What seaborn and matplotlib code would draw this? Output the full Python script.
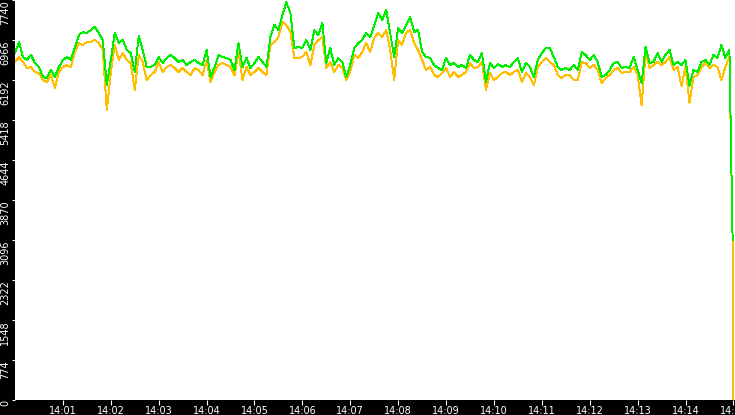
import matplotlib
matplotlib.use("Agg")
import matplotlib.pyplot as plt
import seaborn as sns
import pandas as pd

# samples every 5 s starting at 14:00:00 (seconds after 14:00)
step = 5
green = [
    6714, 6927, 6637, 6579, 6676, 6521, 6443, 6250, 6231, 6385,
    6250, 6443, 6579, 6637, 6579, 6831, 7063, 7121, 7101, 7160,
    7218, 7101, 6966, 6095, 6579, 7101, 6908, 6966, 6772, 6714,
    6347, 7043, 6772, 6443, 6443, 6482, 6637, 6521, 6618, 6676,
    6618, 6540, 6579, 6482, 6540, 6579, 6521, 6482, 6772, 6250,
    6443, 6676, 6637, 6618, 6579, 6385, 6908, 6443, 6618, 6424,
    6521, 6637, 6540, 6443, 7024, 7256, 7160, 7450, 7701, 7488,
    6811, 6831, 6811, 6966, 6772, 7160, 7063, 7295, 6521, 6811,
    6482, 6618, 6540, 6250, 6482, 6811, 6908, 6966, 7101, 7024,
    7256, 7488, 7353, 7546, 7101, 6637, 7198, 7101, 7256, 7411,
    7121, 7160, 6734, 6637, 6618, 6482, 6424, 6385, 6618, 6482,
    6521, 6443, 6482, 6424, 6676, 6579, 6540, 6714, 6153, 6521,
    6424, 6502, 6443, 6482, 6443, 6540, 6618, 6347, 6521, 6443,
    6250, 6579, 6714, 6811, 6811, 6637, 6443, 6385, 6424, 6385,
    6482, 6385, 6734, 6676, 6579, 6676, 6540, 6250, 6289, 6385,
    6521, 6540, 6424, 6443, 6424, 6637, 6385, 6134, 6831, 6521,
    6540, 6714, 6540, 6676, 6772, 6482, 6540, 6482, 6579, 6076,
    6385, 6347, 6540, 6579, 6482, 6676, 6618, 6869, 6618, 6772,
]
orange = [
    6540, 6637, 6540, 6424, 6443, 6347, 6327, 6192, 6153, 6289,
    6037, 6347, 6443, 6482, 6443, 6734, 6908, 6869, 6927, 6927,
    6966, 6908, 6772, 5612, 6327, 6869, 6579, 6714, 6579, 6521,
    5999, 6676, 6540, 6192, 6289, 6347, 6540, 6347, 6443, 6482,
    6424, 6347, 6424, 6347, 6289, 6424, 6385, 6289, 6579, 6153,
    6347, 6482, 6521, 6482, 6443, 6289, 6734, 6192, 6443, 6289,
    6347, 6424, 6347, 6289, 6869, 6927, 7024, 7314, 7256, 7121,
    6618, 6618, 6637, 6734, 6482, 6869, 6966, 7024, 6424, 6540,
    6347, 6482, 6424, 6192, 6347, 6676, 6618, 6734, 6908, 6734,
    7005, 7101, 7024, 7160, 6772, 6192, 6966, 6869, 7101, 7160,
    6908, 6772, 6579, 6385, 6443, 6289, 6250, 6327, 6424, 6250,
    6347, 6250, 6289, 6347, 6521, 6424, 6443, 6540, 5999, 6327,
    6192, 6250, 6327, 6347, 6289, 6347, 6385, 6153, 6327, 6250,
    6095, 6443, 6540, 6618, 6540, 6482, 6289, 6231, 6289, 6289,
    6192, 6192, 6540, 6521, 6424, 6482, 6385, 6134, 6231, 6289,
    6385, 6424, 6327, 6347, 6347, 6443, 6289, 5708, 6714, 6424,
    6482, 6540, 6482, 6540, 6637, 6385, 6443, 6076, 6443, 5747,
    6250, 6289, 6443, 6521, 6424, 6482, 6443, 6192, 6443, 6637,
]
# last samples: both fall away at the end of the window
tail_t = [899, 900]
green_tail = [3100, None]
orange_tail = [3100, 0]

tick_secs = list(range(60, 901, 60))
tick_labels = ["14:%02d" % m for m in range(1, 16)]
y_ticks = list(range(0, 7741, 774))

t = [i * step for i in range(len(green))] + tail_t
df = pd.DataFrame({
    "t": t,
    "green": green + green_tail,
    "orange": orange + orange_tail,
})

fig = plt.figure(figsize=(7.35, 4.15), dpi=100, facecolor="black")
ax = fig.add_axes([15 / 735, 15 / 415, 720 / 735, 400 / 415])
ax.set_facecolor("white")

sns.lineplot(data=df, x="t", y="orange", ax=ax, color="#ffbf00", lw=0.7, antialiased=False)
sns.lineplot(data=df.dropna(), x="t", y="green", ax=ax, color="#00ee00", lw=0.7, antialiased=False)

ax.set_xlim(0, 902)
ax.set_ylim(0, 7740)
for s in ax.spines.values():
    s.set_visible(False)
ax.set_xlabel("")
ax.set_ylabel("")

ax.set_xticks(tick_secs)
ax.set_xticklabels(tick_labels)
ax.set_yticks(y_ticks)
ax.set_yticklabels([str(v) for v in y_ticks], rotation=90, va="top")
ax.tick_params(axis="x", colors="white", length=3.5, width=0.8, pad=0.5, labelsize=7)
ax.tick_params(axis="y", colors="white", length=2.5, width=0.8, pad=1, labelsize=7)

fig.savefig("out.png", dpi=100, facecolor="black")
